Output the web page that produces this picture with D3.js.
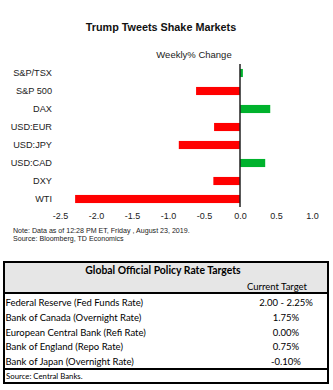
<!DOCTYPE html>
<html>
<head>
<meta charset="utf-8">
<script src="https://cdn.jsdelivr.net/npm/d3@7"></script>
<style>
  body { margin: 0; background: #fff; }
  svg { display: block; }
</style>
</head>
<body>
<div class="canvas"></div>
<script>
// chart data
const markets = ['S&P/TSX', 'S&P 500', 'DAX', 'USD:EUR', 'USD:JPY', 'USD:CAD', 'DXY', 'WTI'];
const weeklyChange = [0.04, -0.61, 0.42, -0.36, -0.85, 0.35, -0.37, -2.29];
const xTicks = [-2.5, -2.0, -1.5, -1.0, -0.5, 0.0, 0.5, 1.0];

// table data
const banks = [
  'Federal Reserve (Fed Funds Rate)',
  'Bank of Canada (Overnight Rate)',
  'European Central Bank (Refi Rate)',
  'Bank of England (Repo Rate)',
  'Bank of Japan (Overnight Rate)'
];
const targets = ['2.00 - 2.25%', '1.75%', '0.00%', '0.75%', '-0.10%'];

const W = 333, H = 390;
const aFont = 'Liberation Sans, Arial, sans-serif';

const svg = d3.select('.canvas')
  .append('svg')
  .attr('width', W)
  .attr('height', H);

// --- bar chart ---
const x = d3.scaleLinear().domain([-2.5, 1.0]).range([60, 312]);
const y = d3.scaleBand().domain(markets).range([64, 208]).paddingInner(0.55).paddingOuter(0.275);

svg.append('text')
  .attr('x', 161).attr('y', 31)
  .attr('text-anchor', 'middle')
  .attr('font-family', aFont)
  .attr('font-weight', 'bold')
  .attr('font-size', 10.8)
  .attr('fill', '#111')
  .text('Trump Tweets Shake Markets');

svg.append('text')
  .attr('x', 194).attr('y', 58)
  .attr('text-anchor', 'middle')
  .attr('font-family', aFont)
  .attr('font-size', 9.5)
  .attr('fill', '#222')
  .text('Weekly% Change');

svg.append('g')
  .selectAll('rect')
  .data(markets.map((m, i) => ({ name: m, val: weeklyChange[i] })))
  .enter()
  .append('rect')
  .attr('x', d => x(Math.min(0, d.val)))
  .attr('y', d => y(d.name))
  .attr('width', d => Math.abs(x(d.val) - x(0)))
  .attr('height', y.bandwidth())
  .attr('fill', d => d.val < 0 ? '#ff0000' : '#00b22d');

// category labels
svg.append('g')
  .selectAll('text')
  .data(markets)
  .enter()
  .append('text')
  .attr('x', 52)
  .attr('y', d => y(d) + y.bandwidth() / 2 + 3.3)
  .attr('text-anchor', 'end')
  .attr('font-family', aFont)
  .attr('font-size', 9.2)
  .attr('fill', '#222')
  .text(d => d);

// zero line
svg.append('line')
  .attr('x1', x(0)).attr('x2', x(0))
  .attr('y1', 64).attr('y2', 207)
  .attr('stroke', '#222')
  .attr('stroke-width', 1.5);

// x axis (labels only)
const xAxis = d3.axisBottom(x)
  .tickValues(xTicks)
  .tickSize(0)
  .tickPadding(0);

const gx = svg.append('g')
  .attr('transform', 'translate(0, 213)')
  .call(xAxis);
gx.select('.domain').remove();
gx.selectAll('text')
  .attr('font-family', aFont)
  .attr('font-size', 9)
  .attr('fill', '#222')
  .text(d => d3.format('.1f')(d).replace('−', '-'));

svg.append('text')
  .attr('x', 13).attr('y', 233)
  .attr('font-family', aFont)
  .attr('font-size', 7.1)
  .attr('fill', '#222')
  .text('Note: Data as of 12:28 PM ET, Friday , August 23, 2019.');

svg.append('text')
  .attr('x', 13).attr('y', 241)
  .attr('font-family', aFont)
  .attr('font-size', 7.1)
  .attr('fill', '#222')
  .text('Source: Bloomberg, TD Economics');

// --- rate table ---
const tbl = { left: 4, right: 328, top: 262, headBottom: 293, rowsBottom: 369, bottom: 383 };
const rowY = d3.scaleBand().domain(banks).range([tbl.headBottom + 2, tbl.rowsBottom]);
const tFont = 'Lato, "Open Sans", sans-serif';

svg.append('rect')
  .attr('x', tbl.left).attr('y', tbl.top)
  .attr('width', tbl.right - tbl.left).attr('height', tbl.headBottom - tbl.top)
  .attr('fill', '#e6e6e6');

svg.append('rect')
  .attr('x', tbl.left).attr('y', tbl.top)
  .attr('width', tbl.right - tbl.left).attr('height', tbl.bottom - tbl.top)
  .attr('fill', 'none')
  .attr('stroke', '#000')
  .attr('stroke-width', 2);

[tbl.headBottom, tbl.rowsBottom].forEach(yy => {
  svg.append('line')
    .attr('x1', tbl.left).attr('x2', tbl.right)
    .attr('y1', yy).attr('y2', yy)
    .attr('stroke', '#000')
    .attr('stroke-width', 2);
});

svg.append('text')
  .attr('x', 163).attr('y', 274)
  .attr('text-anchor', 'middle')
  .attr('font-family', tFont)
  .attr('font-weight', 'bold')
  .attr('font-size', 10.4)
  .attr('fill', '#000')
  .text('Global Official Policy Rate Targets');

svg.append('text')
  .attr('x', 277).attr('y', 290)
  .attr('text-anchor', 'middle')
  .attr('font-family', tFont)
  .attr('font-size', 9.5)
  .attr('fill', '#000')
  .text('Current Target');

const rows = svg.append('g')
  .selectAll('g')
  .data(banks.map((b, i) => ({ bank: b, target: targets[i] })))
  .enter()
  .append('g')
  .attr('transform', d => `translate(0, ${rowY(d.bank) + rowY.bandwidth() / 2 + 3.5})`);

rows.append('text')
  .attr('x', 5.5)
  .attr('font-family', tFont)
  .attr('font-size', 9.5)
  .attr('fill', '#000')
  .text(d => d.bank);

rows.append('text')
  .attr('x', 286)
  .attr('text-anchor', 'middle')
  .attr('font-family', tFont)
  .attr('font-size', 9.5)
  .attr('fill', '#000')
  .text(d => d.target);

svg.append('text')
  .attr('x', 6).attr('y', 379)
  .attr('font-family', tFont)
  .attr('font-size', 7.8)
  .attr('fill', '#000')
  .text('Source: Central Banks.');
</script>
</body>
</html>
